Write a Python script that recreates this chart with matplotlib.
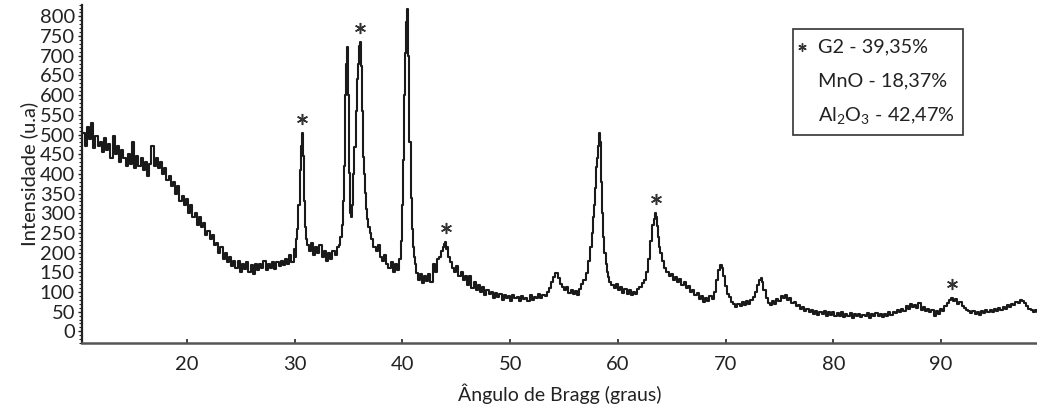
import matplotlib
matplotlib.use('Agg')
import matplotlib.pyplot as plt
from matplotlib.patches import Rectangle
from matplotlib.ticker import MultipleLocator
from matplotlib.transforms import offset_copy
import numpy as np

plt.rcParams['font.family'] = ['Lato', 'DejaVu Sans']
plt.rcParams['mathtext.fontset'] = 'custom'
plt.rcParams['mathtext.rm'] = 'Lato'
plt.rcParams['mathtext.it'] = 'Lato'

# difratograma: (2theta, intensidade)
seg_amorfo = [
    (10.4, 505), (10.6, 470), (10.8, 520), (11.0, 488), (11.2, 530), (11.4, 465), (11.6, 495), (11.8, 470),
    (12.0, 480), (12.2, 455), (12.4, 490), (12.6, 460), (12.8, 475), (13.0, 440), (13.2, 495), (13.4, 450),
    (13.6, 470), (13.8, 430), (14.0, 460), (14.2, 440), (14.4, 420), (14.6, 450), (14.8, 425), (15.0, 480),
    (15.2, 415), (15.4, 445), (15.6, 420), (15.8, 440), (16.0, 410), (16.2, 430), (16.4, 395), (16.6, 425),
    (16.8, 470), (17.0, 420), (17.2, 440), (17.4, 415), (17.6, 430), (17.8, 400), (18.0, 415), (18.2, 385),
    (18.4, 395), (18.6, 370), (18.8, 380), (19.0, 350), (19.2, 370), (19.4, 330), (19.6, 345), (19.8, 320),
    (20.0, 335), (20.2, 300), (20.4, 320), (20.6, 290), (20.8, 300), (21.0, 270), (21.2, 290), (21.4, 265),
    (21.6, 275), (21.8, 245), (22.0, 255), (22.2, 235), (22.4, 245), (22.6, 220), (22.8, 225), (23.0, 200),
    (23.2, 215), (23.4, 185), (23.6, 200), (23.8, 175), (24.0, 190), (24.2, 165), (24.4, 180), (24.6, 160),
    (24.8, 178), (25.0, 150), (25.2, 170), (25.4, 158), (25.6, 175), (25.8, 150), (26.0, 168), (26.2, 145),
    (26.4, 172), (26.6, 155), (26.8, 170), (27.0, 160), (27.2, 178), (27.4, 155), (27.6, 172), (27.8, 162),
    (28.0, 175), (28.2, 158), (28.4, 176), (28.6, 165), (28.8, 180), (29.0, 168), (29.2, 185), (29.4, 172),
    (29.6, 195), (29.8, 175), (30.0, 210), (30.1, 190),
]

seg_picos = [
    (30.2, 235), (30.3, 260), (30.4, 320), (30.5, 410), (30.6, 470), (30.7, 504), (30.8, 445), (30.9, 330),
    (31.0, 265), (31.1, 235), (31.2, 220), (31.4, 205), (31.6, 225), (31.8, 195), (32.0, 215), (32.2, 200),
    (32.4, 220), (32.6, 190), (32.8, 205), (33.0, 180), (33.2, 200), (33.4, 185), (33.6, 205), (33.8, 195),
    (34.0, 215), (34.2, 220), (34.3, 240), (34.4, 270), (34.5, 330), (34.6, 420), (34.7, 600), (34.8, 678),
    (34.9, 723), (35.0, 600), (35.1, 402), (35.2, 300), (35.3, 290), (35.4, 320), (35.5, 400), (35.6, 469),
    (35.7, 560), (35.8, 640), (35.9, 680), (36.0, 725), (36.1, 734), (36.2, 673), (36.3, 560), (36.4, 443),
    (36.5, 400), (36.6, 351), (36.7, 310), (36.8, 285), (36.9, 265), (37.0, 250), (37.2, 235), (37.4, 215),
    (37.6, 205), (37.8, 220), (38.0, 190), (38.2, 180), (38.4, 195), (38.6, 170), (38.8, 160), (39.0, 175),
    (39.2, 150), (39.4, 170), (39.6, 155), (39.8, 185), (39.9, 230), (40.0, 320), (40.1, 436), (40.2, 600),
    (40.3, 708), (40.4, 785), (40.5, 818), (40.6, 700), (40.7, 480), (40.8, 340), (40.9, 260), (41.0, 215),
    (41.1, 189), (41.2, 170), (41.3, 148), (41.5, 130), (41.7, 145), (41.9, 122), (42.1, 140), (42.3, 128),
    (42.5, 145), (42.7, 125), (42.9, 170), (43.1, 150), (43.3, 185), (43.5, 190), (43.7, 205), (43.8, 215),
    (43.9, 222), (44.0, 227), (44.1, 210), (44.2, 215), (44.3, 190), (44.5, 175), (44.7, 160), (44.9, 150),
    (45.1, 165), (45.3, 140), (45.5, 150), (45.7, 130), (45.9, 140), (46.1, 118), (46.3, 140), (46.5, 110),
    (46.7, 125), (46.9, 105), (47.1, 118), (47.3, 100), (47.5, 112), (47.7, 92), (47.9, 105), (48.1, 95),
    (48.3, 100), (48.5, 85), (48.7, 98), (48.9, 88), (49.1, 95), (49.3, 80), (49.5, 92), (49.7, 85),
    (49.9, 90), (50.1, 78), (50.3, 92), (50.5, 84), (50.7, 88), (50.9, 76), (51.1, 90), (51.3, 82),
    (51.5, 86), (51.7, 78), (51.9, 92), (52.1, 80), (52.3, 88), (52.5, 84), (52.7, 95), (52.9, 86),
    (53.1, 92), (53.3, 90), (53.5, 100), (53.7, 110), (53.9, 125), (54.1, 138), (54.3, 148), (54.5, 135),
    (54.7, 120), (54.9, 112), (55.1, 105), (55.3, 112), (55.5, 98), (55.7, 105), (55.9, 95), (56.1, 102),
    (56.3, 92), (56.5, 108), (56.7, 120), (56.9, 130), (57.1, 148), (57.3, 180), (57.5, 215), (57.6, 250),
    (57.7, 290), (57.8, 320), (57.9, 364), (58.0, 418), (58.1, 440), (58.2, 470), (58.3, 504), (58.4, 480),
    (58.5, 380), (58.6, 300), (58.7, 240), (58.8, 199), (58.9, 170), (59.0, 150), (59.1, 138), (59.3, 125),
    (59.5, 118), (59.7, 110), (59.9, 120), (60.1, 104), (60.3, 112), (60.5, 98), (60.7, 108), (60.9, 95),
    (61.1, 104), (61.3, 92), (61.5, 100), (61.7, 96), (61.9, 108), (62.1, 112), (62.3, 122), (62.5, 130),
    (62.7, 150), (62.9, 185), (63.1, 230), (63.3, 270), (63.4, 285), (63.5, 300), (63.6, 290), (63.7, 268),
    (63.8, 240), (63.9, 215), (64.0, 198), (64.2, 180), (64.4, 160), (64.6, 150), (64.8, 140), (65.0, 145),
    (65.2, 130), (65.4, 138), (65.6, 125), (65.8, 132), (66.0, 118), (66.2, 125), (66.4, 110), (66.6, 115),
    (66.8, 100), (67.0, 105), (67.2, 92), (67.4, 98), (67.6, 82), (67.8, 90), (68.0, 74), (68.2, 85),
    (68.4, 78), (68.6, 90), (68.8, 82), (69.0, 100), (69.2, 130), (69.4, 155), (69.6, 168), (69.7, 160),
    (69.8, 140), (70.0, 115), (70.2, 95), (70.4, 88), (70.6, 75), (70.8, 70), (71.0, 62), (71.2, 70),
    (71.4, 65), (71.6, 75), (71.8, 68), (72.0, 78), (72.2, 70), (72.4, 80), (72.6, 88), (72.8, 100),
    (73.0, 118), (73.2, 130), (73.3, 135), (73.4, 125), (73.6, 105), (73.8, 85), (74.0, 72),
]

seg_final = [
    (74.2, 68), (74.4, 78), (74.6, 70), (74.8, 82), (75.0, 78), (75.2, 90), (75.4, 85), (75.6, 92),
    (75.8, 80), (76.0, 85), (76.2, 72), (76.4, 75), (76.6, 64), (76.8, 68), (77.0, 58), (77.2, 62),
    (77.4, 52), (77.6, 58), (77.8, 48), (78.0, 55), (78.2, 45), (78.4, 52), (78.6, 42), (78.8, 50),
    (79.0, 44), (79.2, 52), (79.4, 40), (79.6, 48), (79.8, 42), (80.0, 50), (80.2, 38), (80.4, 46),
    (80.6, 40), (80.8, 48), (81.0, 36), (81.2, 45), (81.4, 40), (81.6, 46), (81.8, 35), (82.0, 44),
    (82.2, 38), (82.4, 45), (82.6, 36), (82.8, 42), (83.0, 38), (83.2, 46), (83.4, 35), (83.6, 44),
    (83.8, 40), (84.0, 47), (84.2, 38), (84.4, 45), (84.6, 36), (84.8, 44), (85.0, 40), (85.2, 48),
    (85.4, 42), (85.6, 50), (85.8, 46), (86.0, 55), (86.2, 50), (86.4, 58), (86.6, 52), (86.8, 64),
    (87.0, 58), (87.2, 70), (87.4, 62), (87.6, 68), (87.8, 60), (88.0, 72), (88.2, 55), (88.4, 62),
    (88.6, 52), (88.8, 58), (89.0, 48), (89.2, 55), (89.4, 40), (89.6, 52), (89.8, 45), (90.0, 58),
    (90.2, 52), (90.4, 65), (90.6, 72), (90.8, 80), (91.0, 86), (91.2, 78), (91.4, 82), (91.6, 70),
    (91.8, 75), (92.0, 64), (92.2, 60), (92.4, 55), (92.6, 52), (92.8, 46), (93.0, 52), (93.2, 44),
    (93.4, 50), (93.6, 42), (93.8, 52), (94.0, 46), (94.2, 54), (94.4, 48), (94.6, 55), (94.8, 50),
    (95.0, 58), (95.2, 52), (95.4, 60), (95.6, 55), (95.8, 62), (96.0, 58), (96.2, 66), (96.4, 62),
    (96.6, 70), (96.8, 68), (97.0, 75), (97.2, 72), (97.4, 80), (97.6, 76), (97.8, 72), (98.0, 65),
    (98.2, 58), (98.4, 55), (98.6, 50), (98.8, 54), (99.0, 48),
]

# picos marcados com * (fase G2)
picos_g2 = [30.7, 36.1, 44.0, 63.5, 91.0]

legenda = ['G2 - 39,35%', 'MnO - 18,37%', r'Al$_2$O$_3$ - 42,47%']

dados = np.array(seg_amorfo + seg_picos + seg_final)
ang = dados[:, 0]
inten = dados[:, 1]

fig = plt.figure(figsize=(10.37, 4.18), dpi=100)
ax = fig.add_axes([0.079, 0.179, 0.921, 0.81])

ax.plot(ang, inten, color='#1a1a1a', lw=1.5, drawstyle='steps-mid')

# asteriscos um pouco acima do topo de cada pico
trans_star = offset_copy(ax.transData, fig=fig, x=0, y=14, units='dots')
for p in picos_g2:
    viz = np.abs(ang - p) <= 0.35
    ax.plot(p, inten[viz].max(), marker=(6, 2, 0), ms=8, mew=1.1, color='#333333',
            transform=trans_star, clip_on=False)

ax.set_xlim(10.25, 98.9)
ax.set_ylim(-30, 830)
ax.set_xticks([20, 30, 40, 50, 60, 70, 80, 90])
ax.set_yticks(np.arange(0, 801, 50))
ax.yaxis.set_minor_locator(MultipleLocator(10))
ax.xaxis.set_minor_locator(MultipleLocator(2))

for s in ['top', 'right']:
    ax.spines[s].set_visible(False)
ax.spines['left'].set_linewidth(1.6)
ax.spines['left'].set_color('#222222')
ax.spines['bottom'].set_linewidth(1.8)
ax.spines['bottom'].set_color('#555555')

ax.tick_params(axis='y', which='major', direction='out', length=3, width=1, labelsize=14.5, pad=2, colors='#222222')
ax.tick_params(axis='y', which='minor', direction='out', length=2, width=0.8, color='#222222')
ax.tick_params(axis='x', which='major', direction='in', length=3, width=1.2, labelsize=14.5, pad=9, colors='#222222')
ax.tick_params(axis='x', which='minor', direction='in', length=0)

ax.set_xlabel('Ângulo de Bragg (graus)', fontsize=14, color='#222222', labelpad=8)
ax.set_ylabel('Intensidade (u.a)', fontsize=14.5, color='#222222', labelpad=1)

# caixa de legenda
caixa = Rectangle((0.765, 0.677), 0.164, 0.253, transform=fig.transFigure,
                  fill=False, edgecolor='#333333', lw=1.2)
fig.patches.append(caixa)
fig.lines.append(plt.Line2D([0.7735], [0.888], marker=(6, 2, 0), ms=6, mew=1.0,
                            color='#333333', transform=fig.transFigure))
for i, t in enumerate(legenda):
    fig.text(0.789, 0.888 - i * 0.082, t, fontsize=14.3, ha='left', va='center', color='#222222')

fig.savefig('out.png', dpi=100)
